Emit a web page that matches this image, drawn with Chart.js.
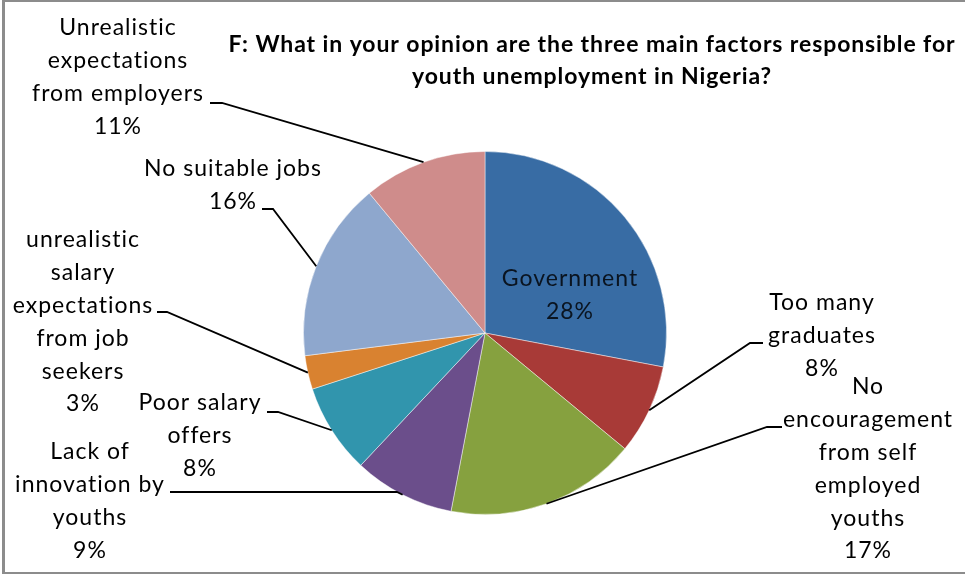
<!DOCTYPE html>
<html>
<head>
<meta charset="utf-8">
<title>Youth unemployment factors</title>
<script src="https://cdn.jsdelivr.net/npm/chart.js@4.4.1/dist/chart.umd.min.js"></script>
<style>
    html, body { margin: 0; padding: 0; background: #fff; overflow: hidden; }
    .box { position: relative; width: 965px; height: 575px; }
    .frame { position: absolute; left: 2px; top: 0; width: 1000px; height: 574px; border: 2px solid #8c8c8c; border-left-width: 3px; box-sizing: border-box; }
    canvas { position: absolute; left: 0; top: 0; }
</style>
</head>
<body>
<div class="box">
    <div class="frame"></div>
    <canvas id="factorChart" width="965" height="575"></canvas>
</div>
<script>
const titleLines = [
    'F: What in your opinion are the three main factors responsible for',
    'youth unemployment in Nigeria?'
];

// slice names, one entry per line of the label
const categories = [
    ['Government'],
    ['Too many', 'graduates'],
    ['No', 'encouragement', 'from self', 'employed', 'youths'],
    ['Lack of', 'innovation by', 'youths'],
    ['Poor salary', 'offers'],
    ['unrealistic', 'salary', 'expectations', 'from job', 'seekers'],
    ['No suitable jobs'],
    ['Unrealistic', 'expectations', 'from employers']
];
const shares = [28, 8, 17, 9, 8, 3, 16, 11];
const sliceColors = ['#386ca4', '#a83a37', '#86a13f', '#6b4e8b', '#3195ad', '#d98230', '#8ea7cd', '#cf8c8b'];

// label block centre x / first line y, plus leader line bend (elbow) and its end (tail)
const labelSpots = [
    { x: 570, y: 279 },
    { x: 822, y: 303, elbow: [750, 343], tail: [763, 343] },
    { x: 868, y: 387, elbow: [767, 427], tail: [782, 427] },
    { x: 90, y: 452, elbow: [397, 492], tail: [170, 492] },
    { x: 200, y: 403, elbow: [278, 412], tail: [267, 412] },
    { x: 83, y: 240, elbow: [167, 312], tail: [157, 312] },
    { x: 233, y: 169, elbow: [273, 209], tail: [262, 209] },
    { x: 118, y: 28, elbow: [222, 103], tail: [210, 103] }
];
const lineStep = 32.8;

const labelPlugin = {
    id: 'sliceLabels',
    afterDatasetsDraw(chart) {
        const ctx = chart.ctx;
        const arcs = chart.getDatasetMeta(0).data;
        ctx.save();

        // title
        ctx.fillStyle = '#000';
        ctx.textAlign = 'center';
        ctx.textBaseline = 'middle';
        ctx.font = 'bold 23px Lato';
        ctx.letterSpacing = '0.9px';
        titleLines.forEach((line, k) => ctx.fillText(line, 592, 45 + k * 32));

        // leader lines from the slice edge to the label
        ctx.strokeStyle = '#000';
        ctx.lineWidth = 1.8;
        arcs.forEach((arc, i) => {
            const spot = labelSpots[i];
            if (!spot.elbow) return;
            const p = arc.getProps(['x', 'y', 'startAngle', 'endAngle', 'outerRadius'], true);
            const mid = (p.startAngle + p.endAngle) / 2;
            ctx.beginPath();
            ctx.moveTo(spot.tail[0], spot.tail[1]);
            ctx.lineTo(spot.elbow[0], spot.elbow[1]);
            ctx.lineTo(p.x + Math.cos(mid) * p.outerRadius, p.y + Math.sin(mid) * p.outerRadius);
            ctx.stroke();
        });

        // category name + percentage
        ctx.font = '23px Lato';
        ctx.letterSpacing = '1px';
        categories.forEach((lines, i) => {
            const spot = labelSpots[i];
            const all = lines.concat([shares[i] + '%']);
            ctx.fillStyle = spot.elbow ? '#000' : '#0a1420';
            all.forEach((line, k) => ctx.fillText(line, spot.x, spot.y + k * lineStep));
        });
        ctx.restore();
    }
};

new Chart(document.getElementById('factorChart'), {
    type: 'pie',
    data: {
        labels: categories.map(c => c.join(' ')),
        datasets: [{
            data: shares,
            backgroundColor: sliceColors,
            borderColor: 'rgba(255,255,255,0.45)',
            borderWidth: 1
        }]
    },
    options: {
        responsive: false,
        animation: false,
        layout: { padding: { left: 303, right: 298, top: 151, bottom: 60 } },
        plugins: {
            legend: { display: false },
            tooltip: { enabled: false }
        }
    },
    plugins: [labelPlugin]
});
</script>
</body>
</html>
